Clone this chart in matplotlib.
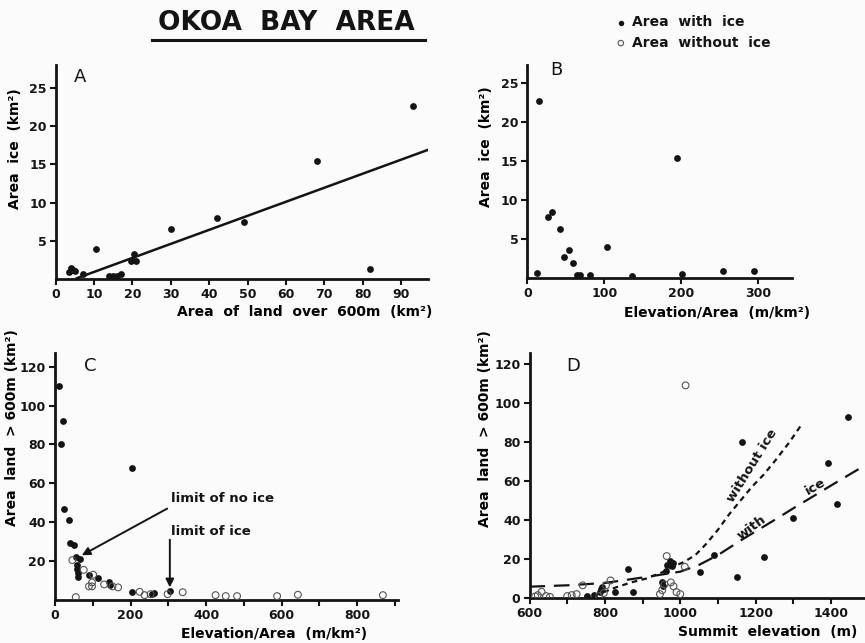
import matplotlib
matplotlib.use("Agg")
import matplotlib.pyplot as plt
from matplotlib.lines import Line2D

# ---------------- data ----------------
# Panel A: area of land over 600 m vs area of ice
A_x = [93, 68, 82, 49, 42, 30, 20.5, 20, 21, 19.5, 10.5, 3.5, 4, 4.5, 5, 7, 14, 15, 16, 17]
A_y = [22.7, 15.5, 1.3, 7.5, 8.0, 6.5, 3.3, 2.5, 2.4, 2.4, 3.9, 0.9, 1.4, 1.2, 1.0, 0.6, 0.4, 0.4, 0.4, 0.6]
A_fit_x = [5.5, 97]
A_fit_y = [0.1, 16.9]

# Panel B: elevation/area vs area of ice
B_x = [15, 195, 27, 32, 43, 54, 48, 60, 104, 12, 64, 66, 68, 82, 136, 201, 254, 295]
B_y = [22.7, 15.4, 7.9, 8.5, 6.3, 3.6, 2.7, 2.0, 4.05, 0.7, 0.4, 0.3, 0.4, 0.45, 0.3, 0.6, 0.9, 0.9]

# Panel C: elevation/area vs area of land > 600 m
C_ice_x = [11, 20, 16, 25, 38, 204, 41, 50, 55, 66, 59, 58, 60, 60, 90, 114, 143, 146, 204, 263, 258, 305]
C_ice_y = [110, 92, 80, 47, 41, 68, 29.5, 28.5, 22, 21, 18, 16, 14, 12, 13, 11.5, 9, 7.5, 4, 3.5, 3, 4.5]
C_noice_x = [46, 55, 76, 101, 90, 98, 98, 130, 152, 167, 224, 237, 253, 298, 338, 425, 452, 482, 588, 643, 868]
C_noice_y = [20.5, 1.5, 15.5, 13, 7, 9, 7, 8, 7, 6.5, 4.2, 2.5, 3, 3, 4, 2.5, 2, 2, 2, 2.7, 2.5]

# Panel D: summit elevation vs area of land > 600 m
D_ice_x = [752, 770, 787, 790, 793, 827, 860, 875, 951, 953, 962, 965, 972, 978, 980,
           1052, 1090, 1150, 1163, 1222, 1300, 1391, 1415, 1446]
D_ice_y = [1, 1.5, 3, 4.5, 5.5, 3.2, 15, 3, 8, 6, 14, 17, 19, 16.5, 18,
           13.5, 22, 11, 80, 21, 41, 69, 48, 93]
D_noice_x = [615, 622, 632, 644, 654, 700, 712, 725, 741, 785, 797, 803, 815,
             946, 952, 958, 964, 975, 982, 990, 1000, 1012, 1014]
D_noice_y = [0.8, 1.5, 3.2, 1, 0.6, 1, 1.5, 2, 6.5, 1, 2.5, 6.5, 9,
             2, 4, 7, 21.5, 8, 6, 3, 2, 16, 109]
D_with_x = [600, 700, 800, 900, 1000, 1050, 1100, 1160, 1250, 1300, 1360, 1420, 1490]
D_with_y = [5.8, 6.5, 7.7, 10.5, 13.5, 17, 22, 29.5, 40, 46, 53, 60, 68]
D_without_x = [745, 790, 830, 870, 910, 950, 980, 1010, 1040, 1070, 1100, 1130, 1160, 1190, 1220, 1250, 1290, 1322]
D_without_y = [0.5, 2.5, 5.5, 8, 10, 13, 16, 18.5, 22, 28, 35, 43, 50, 57, 63, 70, 80, 89]

# ---------------- style ----------------
INK = "#141414"
BG = "#fbfbfb"
plt.rcParams['font.family'] = ['DejaVu Sans']
plt.rcParams['text.color'] = INK

W, H = 865, 643
fig = plt.figure(figsize=(W / 100, H / 100), dpi=100, facecolor=BG)


def px_axes(l, r, b, t):
    return fig.add_axes([l / W, 1 - b / H, (r - l) / W, (b - t) / H])


def style(ax):
    ax.set_facecolor(BG)
    for s in ("top", "right"):
        ax.spines[s].set_visible(False)
    for s in ("left", "bottom"):
        ax.spines[s].set_linewidth(2.0)
        ax.spines[s].set_color(INK)
    ax.tick_params(direction="out", length=4, width=1.5, colors=INK,
                   labelsize=9, pad=2.5)
    for lab in ax.get_xticklabels() + ax.get_yticklabels():
        lab.set_fontweight("bold")


fill_kw = dict(s=24, color=INK, zorder=3, linewidths=0)
open_kw = dict(s=24, facecolors="none", edgecolors="#555555", linewidths=0.8, zorder=3)
lab_kw = dict(fontsize=10, fontweight="bold")

# ---- Panel A ----
axA = px_axes(55.7, 428, 279, 65)
axA.scatter(A_x, A_y, **fill_kw)
axA.plot(A_fit_x, A_fit_y, color=INK, lw=1.8)
axA.set_xlim(0, 97)
axA.set_ylim(0, 28)
axA.set_xticks(range(0, 100, 10))
axA.set_yticks([5, 10, 15, 20, 25])
style(axA)
axA.set_xlabel("Area  of  land  over  600m  (km²)", **lab_kw)
axA.xaxis.set_label_coords(0.67, -0.12)
axA.set_ylabel("Area  ice  (km²)", **lab_kw)
axA.yaxis.set_label_coords(-0.09, 0.61)
axA.text(0.05, 0.985, "A", transform=axA.transAxes, fontsize=13, va="top")

# ---- Panel B ----
axB = px_axes(527.3, 792, 278.3, 65)
sc_ice = axB.scatter(B_x, B_y, **fill_kw)
axB.set_xlim(0, 344)
axB.set_ylim(0, 27.3)
axB.set_xticks([0, 100, 200, 300])
axB.set_yticks([5, 10, 15, 20, 25])
style(axB)
axB.set_xlabel("Elevation/Area  (m/km²)", **lab_kw)
axB.xaxis.set_label_coords(0.716, -0.13)
axB.set_ylabel("Area  ice  (km²)", **lab_kw)
axB.yaxis.set_label_coords(-0.13, 0.615)
axB.text(0.085, 1.02, "B", transform=axB.transAxes, fontsize=13, va="top")

# ---- Panel C ----
axC = px_axes(55, 398, 600, 353)
axC.scatter(C_ice_x, C_ice_y, **fill_kw)
sc_noice = axC.scatter(C_noice_x, C_noice_y, **open_kw)
axC.set_xlim(0, 908)
axC.set_ylim(0, 127)
axC.set_xticks([0, 200, 400, 600, 800])
axC.set_xticks(range(100, 901, 200), minor=True)
axC.set_yticks([20, 40, 60, 80, 100, 120])
style(axC)
axC.tick_params(which="minor", direction="out", length=4, width=1.5, colors=INK)
axC.set_xlabel("Elevation/Area  (m/km²)", **lab_kw)
axC.xaxis.set_label_coords(0.64, -0.11)
axC.set_ylabel("Area  land  > 600m (km²)", **lab_kw)
axC.yaxis.set_label_coords(-0.105, 0.70)
axC.text(0.085, 0.985, "C", transform=axC.transAxes, fontsize=13, va="top")
arrow = dict(arrowstyle="-|>", color=INK, lw=1.4, mutation_scale=12, shrinkA=0, shrinkB=0)
axC.annotate("", xy=(71, 23), xytext=(297, 47), arrowprops=arrow)
axC.text(306, 52, "limit of no ice", fontsize=9.5, fontweight="bold", va="center")
axC.annotate("", xy=(304, 6.5), xytext=(304, 31), arrowprops=arrow)
axC.text(306, 35, "limit of ice", fontsize=9.5, fontweight="bold", va="center")

# ---- Panel D ----
axD = px_axes(529.5, 865, 598, 353)
axD.scatter(D_ice_x, D_ice_y, **fill_kw)
axD.scatter(D_noice_x, D_noice_y, **open_kw)
axD.plot(D_with_x, D_with_y, color=INK, lw=1.6, dashes=(7, 4))
axD.plot(D_without_x, D_without_y, color=INK, lw=1.6, dashes=(2.5, 2))
axD.set_xlim(600, 1490)
axD.set_ylim(0, 125.6)
axD.set_xticks([600, 800, 1000, 1200, 1400])
axD.set_xticks([700, 900, 1100, 1300], minor=True)
axD.set_yticks([0, 20, 40, 60, 80, 100, 120])
style(axD)
axD.tick_params(which="minor", direction="out", length=4, width=1.5, colors=INK)
axD.set_xlabel("Summit  elevation  (m)", **lab_kw)
axD.xaxis.set_label_coords(0.71, -0.11)
axD.set_ylabel("Area  land  > 600m (km²)", **lab_kw)
axD.yaxis.set_label_coords(-0.112, 0.69)
axD.text(0.11, 0.985, "D", transform=axD.transAxes, fontsize=13, va="top")
axD.text(1192, 68, "without ice", fontsize=9.5, fontweight="bold", rotation=58,
         ha="center", va="center", rotation_mode="anchor")
axD.text(1190, 36, "with", fontsize=9.5, fontweight="bold", rotation=36,
         ha="center", va="center", rotation_mode="anchor")
axD.text(1358, 57, "ice", fontsize=9.5, fontweight="bold", rotation=30,
         ha="center", va="center", rotation_mode="anchor")

# ---- Title & legend ----
fig.text(286 / W, 1 - 23 / H, "OKOA  BAY  AREA", fontsize=19, fontweight="bold",
         ha="center", va="center")
fig.add_artist(Line2D([151.7 / W, 425 / W], [1 - 40 / H, 1 - 40 / H], color=INK, lw=2.2))
fig.legend(handles=[sc_ice, sc_noice], labels=["Area  with  ice", "Area  without  ice"],
           loc="upper left", bbox_to_anchor=(600 / W, 1 - 3 / H), frameon=False,
           handletextpad=0.2, labelspacing=0.45, handlelength=1.2,
           prop=dict(size=10, weight="bold"), markerscale=0.8)

fig.savefig("out.png", dpi=100, facecolor=BG)
